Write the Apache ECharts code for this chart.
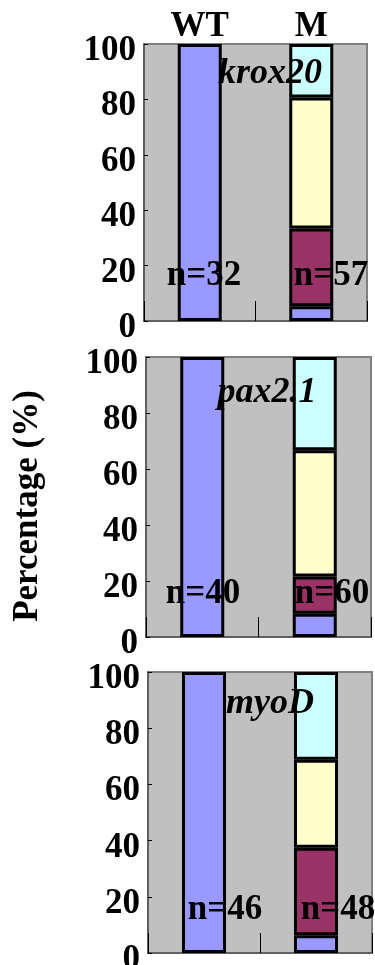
<!DOCTYPE html>
<html>
<head>
<meta charset="utf-8">
<script src="https://cdn.jsdelivr.net/npm/echarts@6/dist/echarts.min.js"></script>
<style>
html,body{margin:0;padding:0;background:#fff;}
#chart{width:375px;height:965px;}
</style>
</head>
<body>
<div id="chart"></div>
<script>
// ---- data ----
const categories = ['WT', 'M'];
const genes = ['krox20', 'pax2.1', 'myoD'];
const nCounts = [[32, 57], [40, 60], [46, 48]];
const blueVals   = [[100, 5.3], [100, 8.3], [100, 6.3]];
const purpleVals = [[null, 28.1], [null, 13.3], [null, 31.2]];
const yellowVals = [[null, 47.3], [null, 45.1], [null, 31.3]];
const cyanVals   = [[null, 19.3], [null, 33.3], [null, 31.2]];
const yTicks = [0, 20, 40, 60, 80, 100];

// ---- styling / layout ----
const FONT = "'Liberation Serif','Times New Roman',serif";
const segColors = ['#9999ff', '#993366', '#ffffcc', '#ccffff'];
const segData = [blueVals, purpleVals, yellowVals, cyanVals];
const grids = [
  {left: 144, top: 44, width: 223, height: 277},
  {left: 146, top: 357, width: 225, height: 280},
  {left: 148, top: 672, width: 224, height: 281}
];
const geneLabelPos = [[270, 74], [267, 393], [270, 704]];
const nLabelPos = [[[204, 276], [331, 276]], [[203, 594], [332, 594]], [[225, 910], [338, 910]]];

const option = {
  backgroundColor: '#ffffff',
  animation: false,
  grid: grids.map(g => Object.assign({show: true, outerBoundsMode: 'none', containLabel: false,
    backgroundColor: '#c0c0c0', borderColor: '#808080', borderWidth: 2}, g)),
  xAxis: grids.map((g, i) => ({
    type: 'category', gridIndex: i, data: categories, boundaryGap: true,
    axisLine: {show: true, lineStyle: {color: '#606060', width: 2}},
    axisTick: {show: true, inside: true, length: 20, lineStyle: {color: '#000', width: 1}},
    axisLabel: {show: false}
  })).concat([{
    type: 'category', gridIndex: 0, data: categories, position: 'top', boundaryGap: true,
    axisLine: {show: false}, axisTick: {show: false},
    axisLabel: {show: true, margin: 0, color: '#000', fontFamily: FONT, fontWeight: 'bold', fontSize: 35}
  }]),
  yAxis: grids.map((g, i) => ({
    type: 'value', gridIndex: i, min: yTicks[0], max: yTicks[yTicks.length - 1], interval: 20,
    axisLine: {show: true, lineStyle: {color: '#606060', width: 2}},
    axisTick: {show: true, inside: true, length: 4, lineStyle: {color: '#000', width: 1}},
    splitLine: {show: false},
    axisLabel: {show: true, margin: 8, color: '#000', fontFamily: FONT, fontWeight: 'bold', fontSize: 35,
      verticalAlign: 'top', lineHeight: 14}
  })),
  series: [],
  graphic: []
};

grids.forEach((g, i) => {
  segData.forEach((arr, s) => {
    option.series.push({
      type: 'bar', xAxisIndex: i, yAxisIndex: i, stack: 'p' + i,
      barWidth: 44,
      data: arr[i],
      itemStyle: {color: segColors[s], borderColor: '#000', borderWidth: 3},
      z: 2
    });
  });
  option.graphic.push({
    type: 'text', x: geneLabelPos[i][0], y: geneLabelPos[i][1], z: 100,
    style: {text: genes[i], fill: '#000', font: 'italic bold 36px ' + FONT, textAlign: 'center', textVerticalAlign: 'middle'}
  });
  nCounts[i].forEach((n, c) => {
    option.graphic.push({
      type: 'text', x: nLabelPos[i][c][0], y: nLabelPos[i][c][1], z: 100,
      style: {text: 'n=' + n, fill: '#000', font: 'bold 35px ' + FONT, textAlign: 'center', textVerticalAlign: 'middle'}
    });
  });
});

option.graphic.push({
  type: 'text', x: 28, y: 506, rotation: Math.PI / 2, z: 100,
  style: {text: 'Percentage (%)', fill: '#000', font: 'bold 35px ' + FONT, textAlign: 'center', textVerticalAlign: 'middle'}
});

const chart = echarts.init(document.getElementById('chart'), null, {renderer: 'canvas'});
chart.setOption(option);
</script>
</body>
</html>
